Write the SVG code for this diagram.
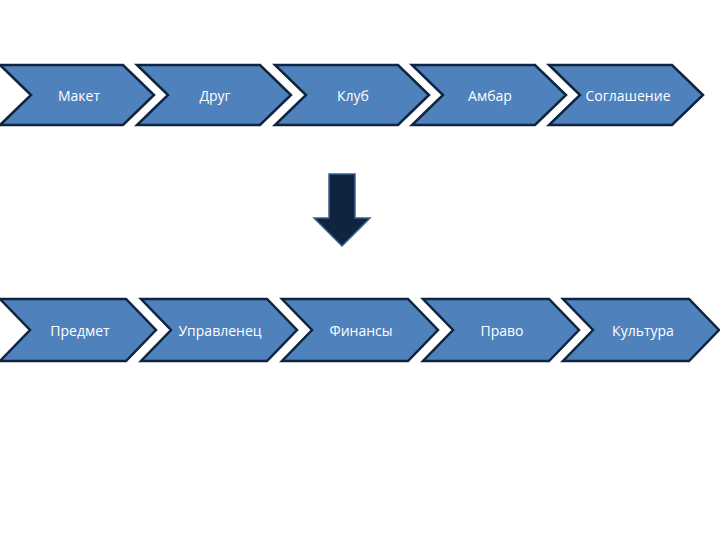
<svg xmlns="http://www.w3.org/2000/svg" width="720" height="540" viewBox="0 0 720 540">
<style>
.ch{fill:#4F81BD;stroke:#0F243E;stroke-width:2.5;stroke-linejoin:miter}
.t{fill:#FFFFFF;font-family:"Open Sans","Liberation Sans",sans-serif;font-size:14px;text-anchor:middle;dominant-baseline:central}
</style>
<defs>
<polygon id="top" points="0,0 123,0 154,30 123,60 0,60 31,30"/>
<polygon id="bot" points="0,0 126,0 156,31 126,62 0,62 30,31"/>
</defs>
<rect width="720" height="540" fill="#FFFFFF"/>
<g id="n1"><use href="#top" class="ch" x="0" y="65"/><text class="t" x="79" y="95">Макет</text></g>
<g id="n2"><use href="#top" class="ch" x="137" y="65"/><text class="t" x="215" y="95">Друг</text></g>
<g id="n3"><use href="#top" class="ch" x="275" y="65"/><text class="t" x="353" y="95">Клуб</text></g>
<g id="n4"><use href="#top" class="ch" x="412" y="65"/><text class="t" x="490" y="95">Амбар</text></g>
<g id="n5"><use href="#top" class="ch" x="549" y="65"/><text class="t" x="628" y="95">Соглашение</text></g>
<g id="n6"><use href="#bot" class="ch" x="0" y="299"/><text class="t" x="80" y="330">Предмет</text></g>
<g id="n7"><use href="#bot" class="ch" x="141" y="299"/><text class="t" x="220" y="330">Управленец</text></g>
<g id="n8"><use href="#bot" class="ch" x="282" y="299"/><text class="t" x="361" y="330">Финансы</text></g>
<g id="n9"><use href="#bot" class="ch" x="423" y="299"/><text class="t" x="502" y="330">Право</text></g>
<g id="n10"><use href="#bot" class="ch" x="563" y="299"/><text class="t" x="643" y="330">Культура</text></g>
<g id="connectors">
<polygon points="329,174 355,174 355,218 370,218 342,246 314,218 329,218" fill="#10243F" stroke="#3A5F8F" stroke-width="1.5"/>
</g>
</svg>
